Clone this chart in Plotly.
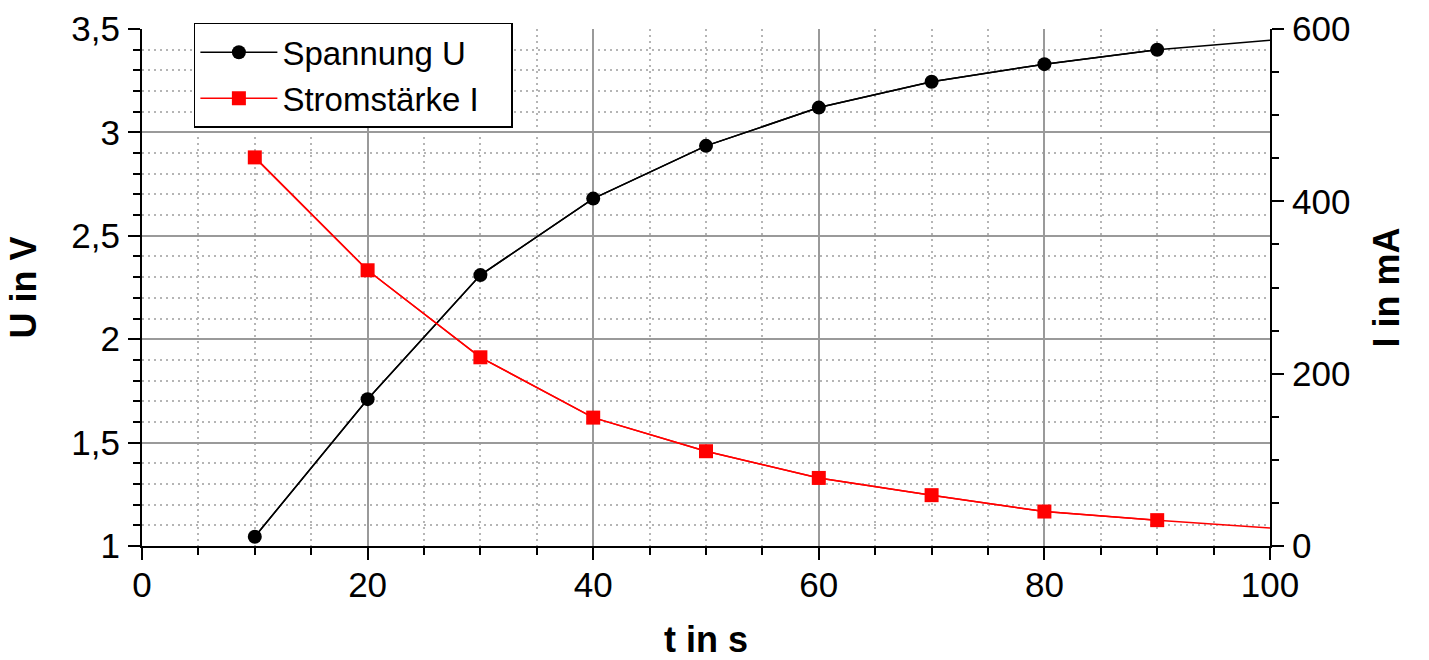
import plotly.graph_objects as go

# Data
t = [10, 20, 30, 40, 50, 60, 70, 80, 90, 100]
U = [1.045, 1.71, 2.31, 2.68, 2.935, 3.12, 3.245, 3.33, 3.40, 3.445]
I = [451, 320, 219, 149, 110, 79, 59, 40, 30, 21]
n_marked = 9  # the last point (t=100) carries no marker

x_ticks = [0, 20, 40, 60, 80, 100]
u_ticks = [1, 1.5, 2, 2.5, 3, 3.5]
i_ticks = [0, 200, 400, 600]

FONT = "Liberation Sans, Arial, sans-serif"
GRID = "#9a9a9a"
MINOR = "#b5b5b5"
DOT = "2px,4px"

fig = go.Figure()

# full polylines (to t=100) without markers
fig.add_trace(go.Scatter(x=t, y=U, mode="lines", line=dict(color="black", width=1.5),
                         showlegend=False, hoverinfo="skip"))
fig.add_trace(go.Scatter(x=t, y=I, mode="lines", line=dict(color="#ff0000", width=1.5),
                         showlegend=False, hoverinfo="skip", yaxis="y2"))
# marked points
fig.add_trace(go.Scatter(x=t[:n_marked], y=U[:n_marked], mode="lines+markers", name="Spannung U",
                         line=dict(color="black", width=1.5),
                         marker=dict(symbol="circle", size=14, color="black")))
fig.add_trace(go.Scatter(x=t[:n_marked], y=I[:n_marked], mode="lines+markers",
                         name="Stromstärke I\u00a0\u00a0\u00a0",
                         line=dict(color="#ff0000", width=1.5),
                         marker=dict(symbol="square", size=14, color="#ff0000"), yaxis="y2"))

axis_common = dict(
    showline=True, linecolor="black", linewidth=2,
    ticks="outside", tickcolor="black", tickwidth=2, ticklen=12,
    zeroline=False,
    tickfont=dict(family=FONT, size=35, color="black"),
)

fig.update_layout(
    width=1429, height=660,
    margin=dict(l=142, r=159, t=29, b=114, autoexpand=False),
    paper_bgcolor="white", plot_bgcolor="white",
    separators=", ",
    font=dict(family=FONT, color="black"),
    xaxis=dict(
        range=[0, 100], tickmode="array", tickvals=x_ticks,
        showgrid=True, gridcolor=GRID, gridwidth=2,
        minor=dict(dtick=5, tick0=0, ticks="outside", ticklen=7, tickwidth=2, tickcolor="black",
                   showgrid=True, gridcolor=MINOR, gridwidth=1.5, griddash=DOT),
        ticklabelstandoff=-5,
        title=dict(text="<b>t in s</b>", font=dict(family=FONT, size=36), standoff=28),
        **axis_common,
    ),
    yaxis=dict(
        range=[1, 3.5], tickmode="array", tickvals=u_ticks,
        showgrid=True, gridcolor=GRID, gridwidth=2,
        minor=dict(dtick=0.1, tick0=1, ticks="outside", ticklen=7, tickwidth=2, tickcolor="black",
                   showgrid=True, gridcolor=MINOR, gridwidth=1.5, griddash=DOT),
        ticklabelstandoff=1,
        title=dict(text="<b>U in V</b>", font=dict(family=FONT, size=36), standoff=24),
        **axis_common,
    ),
    yaxis2=dict(
        range=[0, 600], tickmode="array", tickvals=i_ticks,
        overlaying="y", side="right", anchor="x",
        showgrid=False,
        minor=dict(dtick=50, tick0=0, ticks="outside", ticklen=7, tickwidth=2, tickcolor="black",
                   showgrid=False),
        ticklabelstandoff=1,
        title=dict(text="<b>I in mA</b>", font=dict(family=FONT, size=36), standoff=24),
        **axis_common,
    ),
    legend=dict(
        x=0.046, y=1.012, xanchor="left", yanchor="top",
        bgcolor="white", bordercolor="black", borderwidth=1.5,
        font=dict(family=FONT, size=33, color="black"),
        itemwidth=77, tracegroupgap=0,
    ),
)

fig.write_html("out.html")
